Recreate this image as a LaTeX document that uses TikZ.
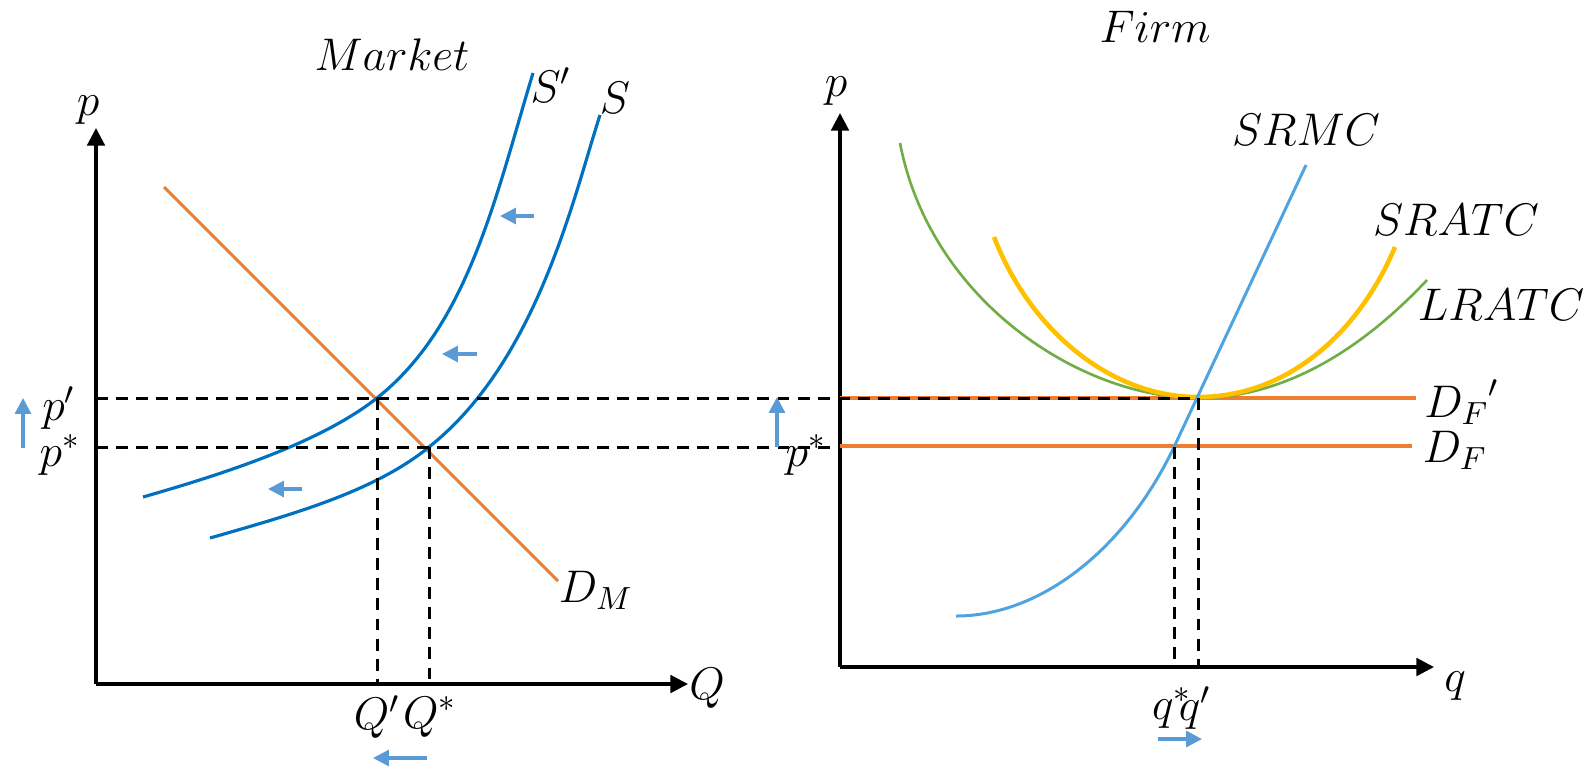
\RequirePackage{fix-cm}
\documentclass[tikz,border=0pt]{standalone}
\usetikzlibrary{arrows.meta}
\definecolor{sblue}{HTML}{0070C0}
\definecolor{dorange}{HTML}{ED7D31}
\definecolor{mcblue}{HTML}{4FA3E0}
\definecolor{atcyellow}{HTML}{FFC000}
\definecolor{lrgreen}{HTML}{70AD47}
\definecolor{shiftblue}{HTML}{5B9BD5}
\begin{document}
\begin{tikzpicture}[x=0.01cm,y=-0.01cm,
  axisline/.style={line width=0.9pt,-{Triangle[length=5pt,width=5pt]}},
  guide/.style={line width=0.85pt,dash pattern=on 3.4pt off 2.3pt},
  lbl/.style={font=\fontsize{13}{15}\selectfont,inner sep=0pt},
  shiftarrow/.style={shiftblue,line width=0.9pt,-{Triangle[length=4.5pt,width=4.5pt]}},
  supply/.style={sblue,line width=0.9pt},
  demand/.style={dorange,line width=0.9pt}]
\useasboundingbox (0,0) rectangle (1583,766);

% ---------- coordinates ----------
\coordinate (OL) at (96,684);
\coordinate (YL) at (96,128);
\coordinate (XL) at (688,684);
\coordinate (OR) at (840,667);
\coordinate (YR) at (840,113);
\coordinate (XR) at (1434,667);
\coordinate (E1) at (377,398);
\coordinate (E0) at (429,447);
\coordinate (F1) at (1198,398);
\coordinate (F0) at (1174,447);
\coordinate (pLa) at (96,398);
\coordinate (pLb) at (96,447);
\coordinate (pRb) at (840,447);
\coordinate (QLa) at (377,684);
\coordinate (QLb) at (429,684);
\coordinate (qRa) at (1198,667);
\coordinate (qRb) at (1174,667);
\coordinate (DFa1) at (840,398);
\coordinate (DFa2) at (1416,398);
\coordinate (DFb1) at (840,446);
\coordinate (DFb2) at (1412,446);
\coordinate (DM1) at (164,187);
\coordinate (DM2) at (558,581);

% ---------- labels ----------
\node[lbl] (market) at (392,55) {$Market$};
\node[lbl] (firm) at (1155,27) {$Firm$};
\node[lbl] (pAxL) at (88,110) {$p$};
\node[lbl] (pAxR) at (836,91) {$p$};
\node[lbl] (QAx) at (707,688) {$Q$};
\node[lbl] (qAx) at (1455,686) {$q$};
\node[lbl] (Qp) at (377,717) {$Q'$};
\node[lbl] (Qs) at (430,717) {$Q^{*}$};
\node[lbl] (qs) at (1172,708) {$q^{*}$};
\node[lbl] (qp) at (1195,708) {$q'$};
\node[lbl] (ppL) at (59,408) {$p'$};
\node[lbl] (psL) at (60,455) {$p^{*}$};
\node[lbl] (psR) at (806,455) {$p^{*}$};
\node[lbl] (Sp) at (551,85) {$S'$};
\node[lbl] (S) at (615,98) {$S$};
\node[lbl] (DM) at (596,590) {$D_M$};
\node[lbl] (SRMC) at (1306,130) {$SRMC$};
\node[lbl] (SRATC) at (1456,220) {$SRATC$};
\node[lbl] (LRATC) at (1501,305) {$LRATC$};
\node[lbl] (DFp) at (1462,402) {${D_F}'$};
\node[lbl] (DF) at (1455,450) {$D_F$};

% ---------- axes ----------
\draw[axisline] (OL) -- (YL);
\draw[axisline] (OL) -- (XL);
\draw[axisline] (OR) -- (YR);
\draw[axisline] (OR) -- (XR);

% ---------- market curves ----------
\draw[demand] (DM1) -- (DM2);
\draw[supply] (143,497) .. controls (223,474) and (320,443) .. (E1)
   .. controls (468,326) and (495.5,197) .. (533,73);
\draw[supply] (210,538) .. controls (290,515) and (374,492) .. (E0)
   .. controls (537,361.5) and (573.4,197.5) .. (600,115);

% ---------- firm curves ----------
\draw[demand] (DFa1) -- (DFa2);
\draw[demand] (DFb1) -- (DFb2);
\draw[lrgreen,line width=0.75pt] (900,143) .. controls (930,300) and (1080,398) .. (F1)
   .. controls (1300,398) and (1380,330) .. (1427,280);
\draw[atcyellow,line width=1.3pt] (994,237) .. controls (1030,330) and (1110,397) .. (1198,397)
   .. controls (1290,397) and (1360,330) .. (1395,247);
\draw[mcblue,line width=0.85pt] (956,616) .. controls (1040,616) and (1125,550) .. (F0) -- (1306,165);

% ---------- guides ----------
\draw[guide] (pLa) -- (F1);
\draw[guide] (pLb) -- (pRb);
\draw[guide] (E1) -- (QLa);
\draw[guide] (E0) -- (QLb);
\draw[guide] (F1) -- (qRa);
\draw[guide] (F0) -- (qRb);

% ---------- shift arrows ----------
\coordinate (a1s) at (534,216); \coordinate (a1e) at (500,216);
\coordinate (a2s) at (477,354); \coordinate (a2e) at (442,354);
\coordinate (a3s) at (302,489); \coordinate (a3e) at (268,489);
\coordinate (a4s) at (427,758); \coordinate (a4e) at (373,758);
\coordinate (a5s) at (1158,739); \coordinate (a5e) at (1202,739);
\coordinate (a6s) at (23,448); \coordinate (a6e) at (23,398);
\coordinate (a7s) at (777,447); \coordinate (a7e) at (777,397);
\draw[shiftarrow] (a1s) -- (a1e);
\draw[shiftarrow] (a2s) -- (a2e);
\draw[shiftarrow] (a3s) -- (a3e);
\draw[shiftarrow] (a4s) -- (a4e);
\draw[shiftarrow] (a5s) -- (a5e);
\draw[shiftarrow] (a6s) -- (a6e);
\draw[shiftarrow] (a7s) -- (a7e);
\end{tikzpicture}
\end{document}
